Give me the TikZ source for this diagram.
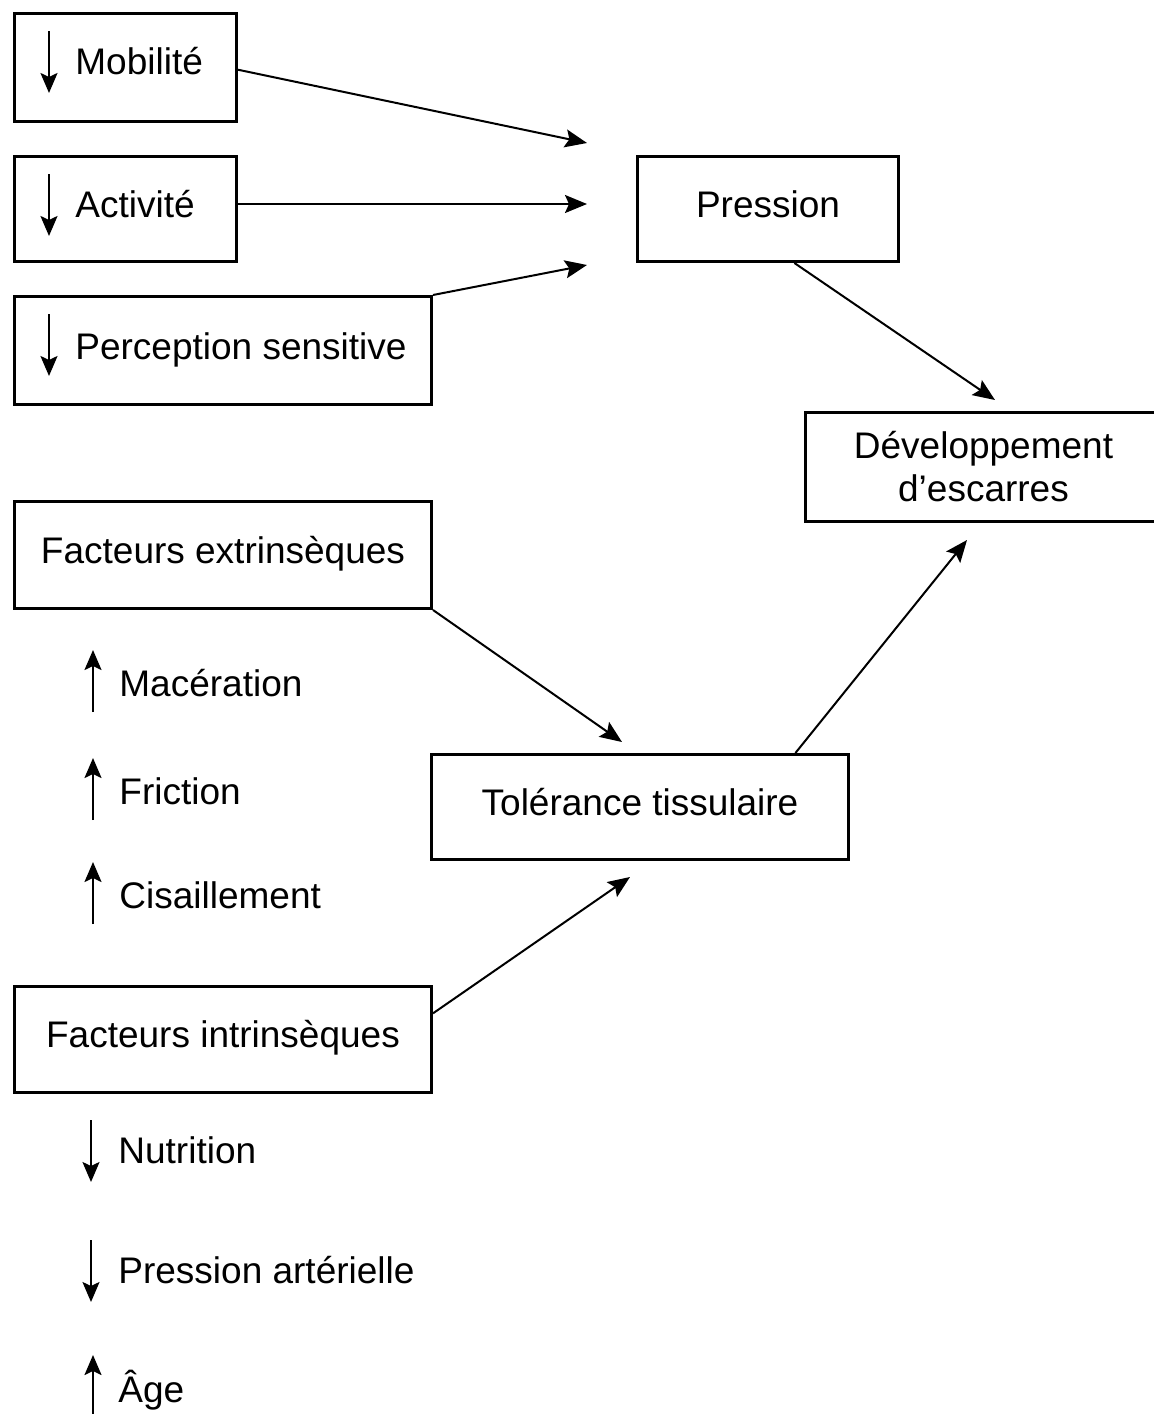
\documentclass[tikz,border=0pt]{standalone}
\usepackage{fontspec}
\setmainfont{Liberation Sans}
\usetikzlibrary{arrows.meta,calc}

\begin{document}
\begin{tikzpicture}[x=0.5pt,y=-0.5pt,
  box/.style={draw,line width=1.5pt,anchor=north west,inner sep=0pt,align=center,
    font=\fontsize{18.5}{21.5}\selectfont},
  onebox/.style={box,text height=8pt,text depth=0pt},
  lbl/.style={anchor=base west,inner sep=0pt,font=\fontsize{18.5}{21.5}\selectfont},
  flow/.style={line width=1pt,-{Stealth[length=11pt,width=9pt,inset=2pt]}},
  tick/.style={line width=1pt,-{Stealth[length=10pt,width=8.5pt,inset=2pt]}}]

\useasboundingbox (0,0) rectangle (1153,1414);

%draw boxes
\node[box,minimum width=111pt,minimum height=54pt] (mob) at (13,12) {};
\node[box,minimum width=111pt,minimum height=52.5pt] (act) at (13,155) {};
\node[box,minimum width=208.5pt,minimum height=54pt] (per) at (13,295) {};
\node[onebox,minimum width=130.5pt,minimum height=52.5pt] (pre) at (636,155) {Pression};
\node[box,minimum width=178pt,minimum height=54.5pt] (dev) at (804,411) {Développement\\d’escarres};
\node[onebox,minimum width=208.5pt,minimum height=53.5pt] (ext) at (13,500) {Facteurs extrinsèques};
\node[onebox,minimum width=208.5pt,minimum height=52.5pt] (tol) at (430,753) {Tolérance tissulaire};
\node[onebox,minimum width=208.5pt,minimum height=53pt] (intr) at (13,985) {Facteurs intrinsèques};

%draw labels inside the top boxes
\node[lbl] (mobtxt) at (75,74) {Mobilité};
\node[lbl] (acttxt) at (75,217) {Activité};
\node[lbl] (pertxt) at (75,359) {Perception sensitive};
\foreach \y in {31,174,314}
\draw[tick] (49,\y) -- (49,\y+62);

%draw increasing factors
\foreach \y/\name/\txt in {696/mac/Macération,804/fri/Friction,908/cis/Cisaillement}
{
\node[lbl] (\name) at (119,\y) {\txt};
\draw[tick] (93,\y+16) -- (93,\y-46);
}

%draw decreasing factors
\foreach \y/\name/\txt in {1163/nut/Nutrition,1283/art/Pression artérielle}
{
\node[lbl] (\name) at (118,\y) {\txt};
\draw[tick] (91,\y-43) -- (91,\y+19);
}
\node[lbl] (age) at (118,1402) {Âge};
\draw[tick] (93,1414) -- (93,1355);

%draw connectors
\coordinate (in1) at (587,143);
\coordinate (in2) at (587,204);
\coordinate (in3) at (587,265);
\coordinate (in4) at (995,400);
\coordinate (in5) at (622,742);
\coordinate (in6) at (967,540);
\coordinate (in7) at (630,877);

\draw[flow] ($(mob.north east)!0.52!(mob.south east)$) -- (in1);
\draw[flow] (act.east |- in2) -- (in2);
\draw[flow] (per.north east) -- (in3);
\draw[flow] ($(pre.south west)!0.6!(pre.south east)$) -- (in4);
\draw[flow] (ext.south east) -- (in5);
\draw[flow] ($(tol.north west)!0.87!(tol.north east)$) -- (in6);
\draw[flow] ($(intr.north east)!0.26!(intr.south east)$) -- (in7);
\end{tikzpicture}
\end{document}
